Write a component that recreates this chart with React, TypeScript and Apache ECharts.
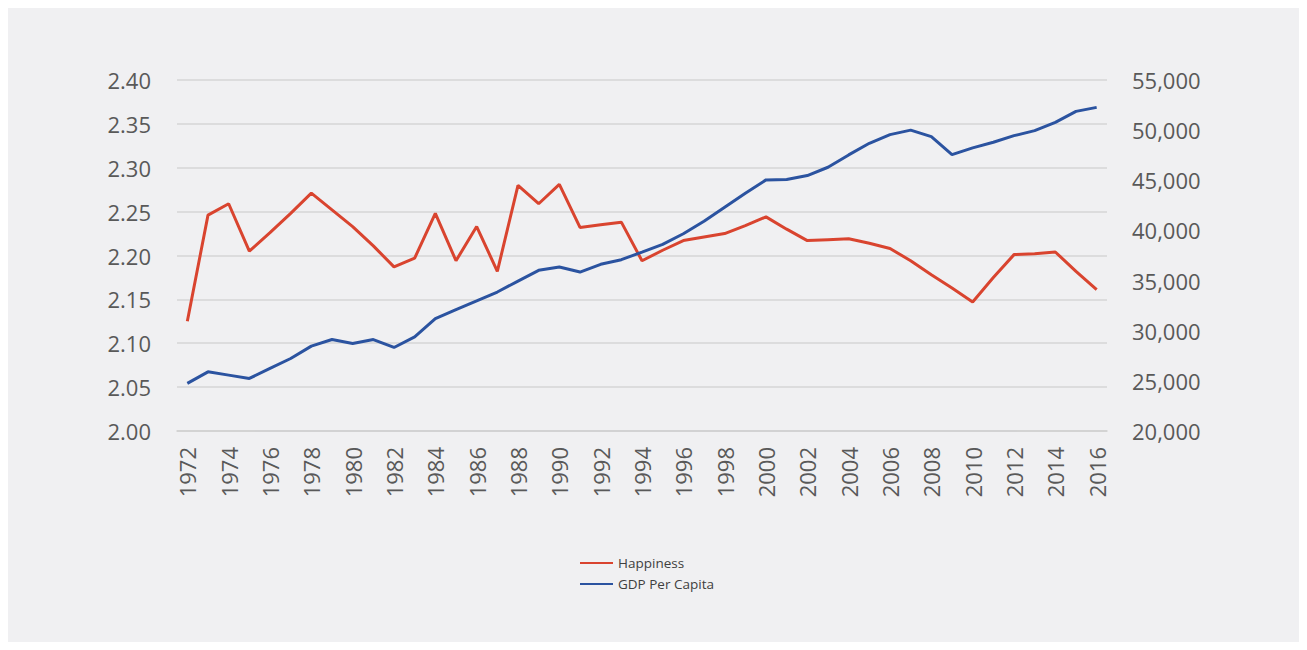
import React, { useEffect, useRef } from "react";
import * as echarts from "echarts";

const years: string[] = [];
for (let y = 1972; y <= 2016; y++) years.push(String(y));

const happiness: number[] = [
  2.125, 2.246, 2.259, 2.205, 2.226, 2.248, 2.271, 2.252, 2.233, 2.211,
  2.187, 2.197, 2.248, 2.194, 2.233, 2.182, 2.280, 2.259, 2.281, 2.232,
  2.235, 2.238, 2.194, 2.206, 2.217, 2.221, 2.225, 2.234, 2.244, 2.230,
  2.217, 2.218, 2.219, 2.214, 2.208, 2.194, 2.178, 2.163, 2.147, 2.175,
  2.201, 2.202, 2.204, 2.182, 2.161,
];

const gdpPerCapita: number[] = [
  24750, 25900, 25570, 25240, 26240, 27230, 28460, 29120, 28730, 29120,
  28330, 29380, 31210, 32110, 32970, 33860, 34950, 36020, 36350, 35850,
  36620, 37080, 37840, 38610, 39670, 40920, 42320, 43710, 45040, 45070,
  45470, 46300, 47530, 48690, 49550, 50000, 49350, 47560, 48230, 48790,
  49450, 49950, 50780, 51870, 52270,
];

const seriesNames = ["Happiness", "GDP Per Capita"];

const FONT = "'Open Sans', 'Noto Sans', sans-serif";

export default function App() {
  const ref = useRef<HTMLDivElement>(null);
  useEffect(() => {
    if (!ref.current) return;
    const chart = echarts.init(ref.current, undefined, { renderer: "svg" });
    chart.setOption({
      animation: false,
      backgroundColor: "#f0f0f2",
      textStyle: { fontFamily: FONT },
      grid: { left: 169, right: 192, top: 72, bottom: 211, containLabel: false },
      legend: {
        orient: "vertical",
        left: 567,
        top: 542,
        icon: "rect",
        itemWidth: 33,
        itemHeight: 2,
        itemGap: 5,
        data: seriesNames,
        textStyle: { color: "#404040", fontSize: 13.5, fontFamily: FONT, lineHeight: 16 },
      },
      xAxis: {
        type: "category",
        data: years,
        boundaryGap: true,
        axisLine: { lineStyle: { color: "#cfcfcf", width: 1.5 } },
        axisTick: { show: false },
        axisLabel: {
          interval: 1,
          rotate: 90,
          margin: 16,
          color: "#595959",
          fontSize: 22,
          fontFamily: FONT,
        },
      },
      yAxis: [
        {
          type: "value",
          min: 2.0,
          max: 2.4,
          interval: 0.05,
          position: "left",
          axisLine: { show: false },
          axisTick: { show: false },
          splitLine: { lineStyle: { color: "#d6d6d6", width: 1.5 } },
          axisLabel: {
            margin: 26,
            color: "#595959",
            fontSize: 22,
            fontFamily: FONT,
            formatter: (v: number) => v.toFixed(2),
          },
        },
        {
          type: "value",
          min: 20000,
          max: 55000,
          interval: 5000,
          position: "right",
          axisLine: { show: false },
          axisTick: { show: false },
          splitLine: { show: false },
          axisLabel: {
            margin: 25,
            color: "#595959",
            fontSize: 22,
            fontFamily: FONT,
            formatter: (v: number) => v.toLocaleString("en-US"),
          },
        },
      ],
      series: [
        {
          name: seriesNames[0],
          type: "line",
          yAxisIndex: 0,
          data: happiness,
          symbol: "none",
          lineStyle: { color: "#d9442f", width: 3 },
          itemStyle: { color: "#d9442f" },
        },
        {
          name: seriesNames[1],
          type: "line",
          yAxisIndex: 1,
          data: gdpPerCapita,
          symbol: "none",
          lineStyle: { color: "#2b53a0", width: 3 },
          itemStyle: { color: "#2b53a0" },
        },
      ],
    });
    return () => chart.dispose();
  }, []);
  return <div ref={ref} style={{ width: 1291, height: 634 }} />;
}
